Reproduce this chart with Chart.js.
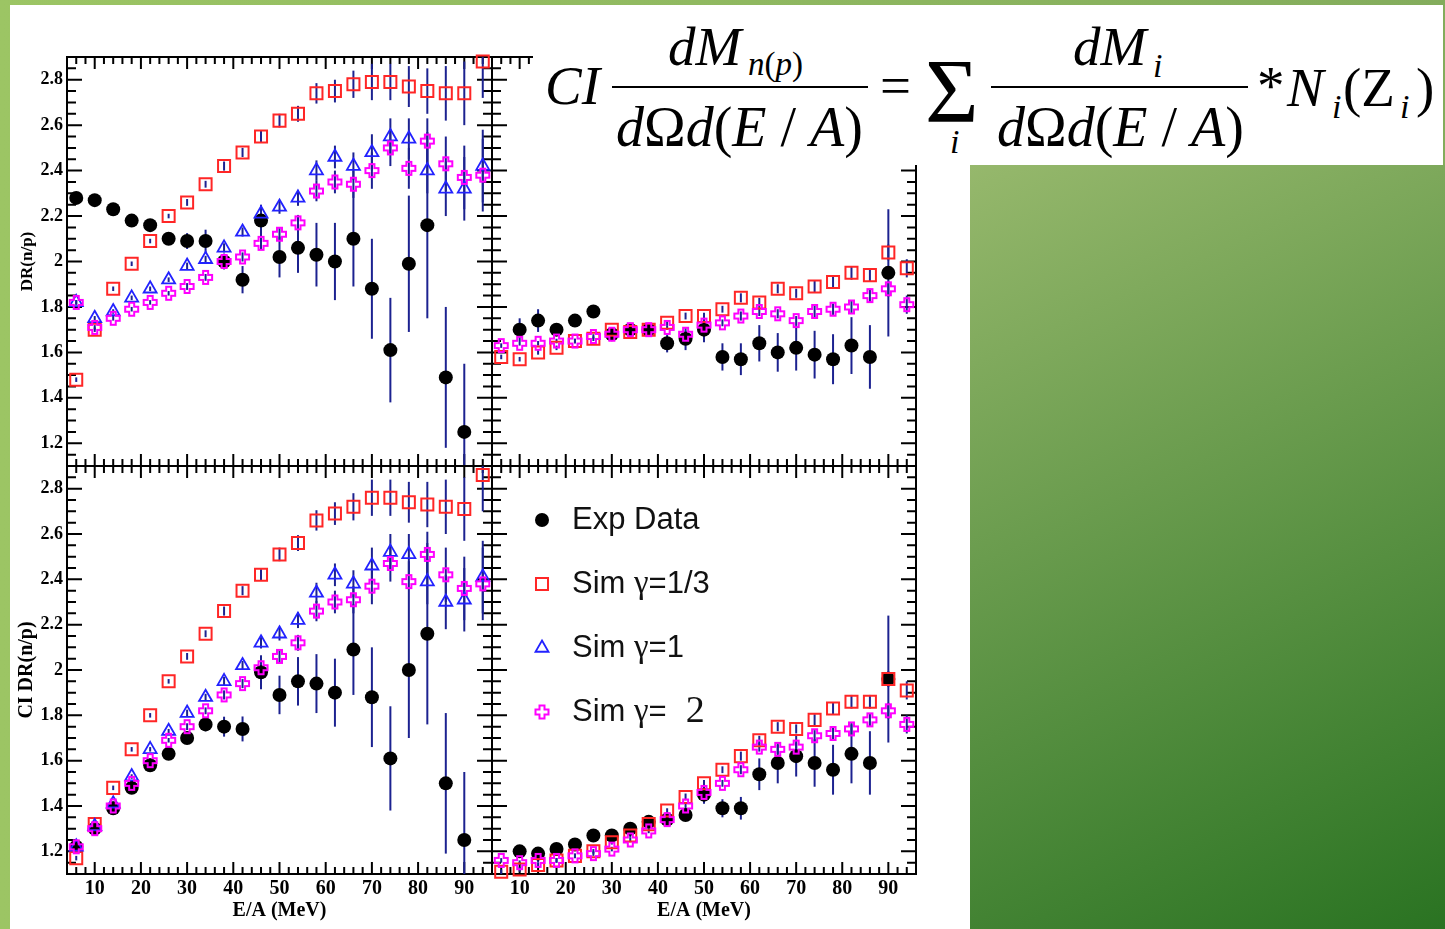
<!DOCTYPE html>
<html>
<head>
<meta charset="utf-8">
<script src="https://cdn.jsdelivr.net/npm/chart.js@4.4.1/dist/chart.umd.min.js"></script>
<style>
  body { margin: 0; width: 1445px; height: 929px; overflow: hidden; position: relative;
         background: linear-gradient(to right, #9cc564, #83ac5c); }
  .white { position: absolute; background: #fff; }
  #green { position: absolute; left: 970px; top: 165px; width: 475px; height: 764px;
           background: linear-gradient(155deg, #96b86c 0%, #2a7322 100%); }
  canvas { position: absolute; left: 0; top: 0; }
  #formulaBox { position: absolute; left: 533px; top: 5px; width: 910px; height: 160px; background: #fff; }
  .f { position: absolute; font-family: 'Liberation Serif', 'Times New Roman', serif; line-height: 1; white-space: pre; color: #000; }
  .bar { position: absolute; height: 2px; background: #000; }
</style>
</head>
<body>
<div class="white" style="left:10px;top:5px;width:960px;height:924px"></div>
<div class="white" style="left:10px;top:5px;width:1433px;height:160px"></div>
<div id="green"></div>
<canvas id="tl" width="1445" height="929"></canvas>
<canvas id="tr" width="1445" height="929"></canvas>
<canvas id="bl" width="1445" height="929"></canvas>
<canvas id="br" width="1445" height="929"></canvas>
<div id="formulaBox"></div>
<div id="formula"></div>
<script>
// beam energies E/A (MeV), same for every panel
var energies = [6, 10, 14, 18, 22, 26, 30, 34, 38, 42, 46, 50, 54, 58, 62, 66, 70, 74, 78, 82, 86, 90, 94];

// top left: DR(n/p)
var expTL    = [2.28, 2.27, 2.23, 2.18, 2.16, 2.10, 2.09, 2.09, 2.00, 1.92, 2.18, 2.02, 2.06, 2.03, 2.00, 2.10, 1.88, 1.61, 1.99, 2.16, 1.49, 1.25, null];
var expErrTL = [0.01, 0.01, 0.01, 0.01, 0.015, 0.02, 0.035, 0.05, 0.035, 0.06, 0.07, 0.09, 0.11, 0.14, 0.17, 0.21, 0.22, 0.23, 0.30, 0.41, 0.31, 0.30, null];
var sim13TL  = [1.48, 1.70, 1.88, 1.99, 2.09, 2.20, 2.26, 2.34, 2.42, 2.48, 2.55, 2.62, 2.65, 2.74, 2.75, 2.78, 2.79, 2.79, 2.77, 2.75, 2.74, 2.74, 2.88];
var sim1TL   = [1.82, 1.75, 1.78, 1.84, 1.88, 1.92, 1.98, 2.01, 2.06, 2.13, 2.21, 2.24, 2.28, 2.40, 2.46, 2.42, 2.48, 2.55, 2.54, 2.40, 2.32, 2.32, 2.42];
var sim2TL   = [1.82, 1.71, 1.75, 1.79, 1.82, 1.86, 1.89, 1.93, 2.00, 2.02, 2.08, 2.12, 2.17, 2.31, 2.35, 2.34, 2.40, 2.50, 2.41, 2.53, 2.43, 2.37, 2.38];

// top right: DR(n/p)
var expTR    = [null, 1.70, 1.74, 1.70, 1.74, 1.78, 1.68, 1.70, 1.70, 1.64, 1.66, 1.70, 1.58, 1.57, 1.64, 1.60, 1.62, 1.59, 1.57, 1.63, 1.58, 1.95, null];
var expErrTR = [null, 0.05, 0.05, 0.02, 0.02, 0.02, 0.02, 0.02, 0.025, 0.04, 0.05, 0.055, 0.06, 0.07, 0.08, 0.085, 0.10, 0.105, 0.11, 0.125, 0.14, 0.28, null];
var sim13TR  = [1.58, 1.57, 1.60, 1.62, 1.65, 1.66, 1.70, 1.69, 1.70, 1.73, 1.76, 1.76, 1.79, 1.84, 1.82, 1.88, 1.86, 1.89, 1.91, 1.95, 1.94, 2.04, 1.97];
var sim2TR   = [1.63, 1.64, 1.64, 1.65, 1.65, 1.67, 1.68, 1.70, 1.70, 1.71, 1.68, 1.72, 1.73, 1.76, 1.78, 1.77, 1.74, 1.78, 1.79, 1.80, 1.85, 1.88, 1.81];

// bottom left: CI DR(n/p)
var expBL    = [1.22, 1.30, 1.39, 1.48, 1.58, 1.63, 1.70, 1.76, 1.75, 1.74, 1.99, 1.89, 1.95, 1.94, 1.90, 2.09, 1.88, 1.61, 2.00, 2.16, 1.50, 1.25, null];
var expErrBL = [0.01, 0.01, 0.01, 0.01, 0.01, 0.015, 0.02, 0.03, 0.044, 0.055, 0.075, 0.085, 0.107, 0.13, 0.15, 0.20, 0.22, 0.23, 0.30, 0.40, 0.31, 0.30, null];
var sim13BL  = [1.17, 1.32, 1.48, 1.65, 1.80, 1.95, 2.06, 2.16, 2.26, 2.35, 2.42, 2.51, 2.56, 2.66, 2.69, 2.72, 2.76, 2.76, 2.74, 2.73, 2.72, 2.71, 2.86];
var sim1BL   = [1.22, 1.31, 1.41, 1.53, 1.65, 1.73, 1.81, 1.88, 1.95, 2.02, 2.12, 2.16, 2.22, 2.34, 2.42, 2.38, 2.46, 2.52, 2.51, 2.39, 2.30, 2.31, 2.41];
var sim2BL   = [1.22, 1.30, 1.40, 1.50, 1.60, 1.69, 1.75, 1.82, 1.89, 1.94, 2.01, 2.06, 2.12, 2.26, 2.30, 2.31, 2.37, 2.47, 2.39, 2.51, 2.42, 2.36, 2.38];

// bottom right: CI DR(n/p)
var expBR    = [null, 1.20, 1.19, 1.21, 1.23, 1.27, 1.27, 1.30, 1.33, 1.34, 1.36, 1.45, 1.39, 1.39, 1.54, 1.59, 1.62, 1.59, 1.56, 1.63, 1.59, 1.96, null];
var expErrBR = [null, 0.01, 0.01, 0.01, 0.01, 0.015, 0.015, 0.015, 0.02, 0.02, 0.025, 0.04, 0.04, 0.05, 0.07, 0.09, 0.09, 0.105, 0.11, 0.13, 0.14, 0.28, null];
var sim13BR  = [1.11, 1.12, 1.14, 1.16, 1.18, 1.20, 1.24, 1.27, 1.32, 1.38, 1.44, 1.50, 1.56, 1.62, 1.69, 1.75, 1.74, 1.78, 1.83, 1.86, 1.86, 1.96, 1.91];
var sim2BR   = [1.16, 1.15, 1.16, 1.16, 1.18, 1.19, 1.21, 1.25, 1.29, 1.34, 1.40, 1.46, 1.50, 1.56, 1.66, 1.65, 1.66, 1.71, 1.72, 1.74, 1.78, 1.82, 1.76];

// simulation statistical errors
var simErrL = [0.01, 0.01, 0.01, 0.01, 0.01, 0.01, 0.015, 0.015, 0.02, 0.02, 0.025, 0.03, 0.035, 0.045, 0.05, 0.06, 0.08, 0.08, 0.09, 0.10, 0.12, 0.14, 0.16];
var simErrR = [0.01, 0.01, 0.01, 0.01, 0.01, 0.01, 0.01, 0.01, 0.01, 0.01, 0.015, 0.015, 0.015, 0.02, 0.02, 0.02, 0.02, 0.025, 0.025, 0.03, 0.03, 0.035, 0.04];

var legendLabels = ['Exp Data', 'Sim \u03b3=1/3', 'Sim \u03b3=1', 'Sim \u03b3= 2'];
var xTicks = [10, 20, 30, 40, 50, 60, 70, 80, 90];
var yTicks = [1.2, 1.4, 1.6, 1.8, 2.0, 2.2, 2.4, 2.6, 2.8];
var xRange = [4, 96];
var yRange = [1.1, 2.9];

Chart.defaults.font.family = "'Liberation Serif', 'Times New Roman', serif";
Chart.defaults.color = '#000';

var errColor = '#1c2290';

// open cross marker (ROOT style 28)
function openCross(color) {
    var c = document.createElement('canvas');
    c.width = 17; c.height = 17;
    var g = c.getContext('2d');
    var p = [[6, 2], [11, 2], [11, 6], [15, 6], [15, 11], [11, 11], [11, 15], [6, 15], [6, 11], [2, 11], [2, 6], [6, 6]];
    g.beginPath();
    g.moveTo(p[0][0], p[0][1]);
    for (var i = 1; i < p.length; i++) g.lineTo(p[i][0], p[i][1]);
    g.closePath();
    g.strokeStyle = color;
    g.lineWidth = 2;
    g.stroke();
    return c;
}
var crossImg = openCross('#ff00ff');

var markers = [
    { style: 'circle', r: 7, bg: '#000', border: '#000', bw: 0 },
    { style: 'rect', r: 8.5, bg: 'rgba(0,0,0,0)', border: '#ff2626', bw: 2 },
    { style: 'triangle', r: 7.5, bg: 'rgba(0,0,0,0)', border: '#2222ff', bw: 1.8 },
    { style: crossImg, r: 7, bg: 'rgba(0,0,0,0)', border: '#ff00ff', bw: 0 }
];

function series(vals, errs) {
    var out = [];
    if (!vals) return out;
    energies.forEach(function (e, i) {
        if (vals[i] != null) out.push({ x: e, y: vals[i], err: errs ? errs[i] : 0 });
    });
    return out;
}

// frame with ticks inside on all four sides
var frameTicks = {
    id: 'frameTicks',
    beforeDatasetsDraw: function (chart) {
        var ctx = chart.ctx, a = chart.chartArea, x = chart.scales.x, y = chart.scales.y;
        ctx.save();
        ctx.strokeStyle = '#000';
        ctx.lineWidth = 2;
        ctx.strokeRect(a.left, a.top, a.right - a.left, a.bottom - a.top);
        ctx.beginPath();
        for (var v = xRange[0]; v <= xRange[1]; v += 2) {
            var px = x.getPixelForValue(v);
            var len = v % 10 === 0 ? 12 : 7;
            ctx.moveTo(px, a.bottom); ctx.lineTo(px, a.bottom - len);
            ctx.moveTo(px, a.top); ctx.lineTo(px, a.top + len);
        }
        for (var k = 0; k <= 36; k++) {
            var val = Math.round((yRange[0] + k * 0.05) * 100);
            var py = y.getPixelForValue(val / 100);
            var l2 = val % 20 === 0 ? 15 : 9;
            ctx.moveTo(a.left, py); ctx.lineTo(a.left + l2, py);
            ctx.moveTo(a.right, py); ctx.lineTo(a.right - l2, py);
        }
        ctx.stroke();
        ctx.restore();
    }
};

var errorBars = {
    id: 'errorBars',
    beforeDatasetsDraw: function (chart) {
        var ctx = chart.ctx, a = chart.chartArea, y = chart.scales.y;
        ctx.save();
        ctx.beginPath();
        ctx.rect(a.left, a.top, a.right - a.left, a.bottom - a.top);
        ctx.clip();
        ctx.strokeStyle = errColor;
        ctx.lineWidth = 2;
        chart.data.datasets.forEach(function (ds, di) {
            var meta = chart.getDatasetMeta(di);
            ds.data.forEach(function (d, i) {
                if (!d.err) return;
                var el = meta.data[i];
                ctx.beginPath();
                ctx.moveTo(el.x, y.getPixelForValue(d.y - d.err));
                ctx.lineTo(el.x, y.getPixelForValue(d.y + d.err));
                ctx.stroke();
            });
        });
        ctx.restore();
    }
};

var sansFont = "31px 'Liberation Sans', Arial, sans-serif";
var serifFont = "33px 'Liberation Serif', 'Times New Roman', serif";

var legendBox = {
    id: 'legendBox',
    afterDatasetsDraw: function (chart, args, opts) {
        if (!opts.show) return;
        var ctx = chart.ctx, a = chart.chartArea;
        ctx.save();
        legendLabels.forEach(function (label, i) {
            var m = markers[i];
            var yy = a.top + 54 + i * 64;
            var xx = a.left + 50;
            ctx.fillStyle = m.bg;
            ctx.strokeStyle = m.border;
            ctx.lineWidth = m.bw;
            Chart.helpers.drawPoint(ctx, { pointStyle: m.style, radius: m.r, borderWidth: m.bw, rotation: 0 }, xx, yy);
            ctx.fillStyle = '#111';
            ctx.textBaseline = 'middle';
            var tx = a.left + 80;
            // gamma and the trailing "2" are set in a serif face, as on the slide
            label.split(/(\u03b3| 2$)/).forEach(function (part) {
                if (!part) return;
                if (part === '\u03b3') {
                    ctx.font = serifFont;
                } else if (part === ' 2') {
                    ctx.font = "38px 'Liberation Serif', 'Times New Roman', serif";
                    part = '  2';
                } else {
                    ctx.font = sansFont;
                }
                ctx.fillText(part, tx, yy);
                tx += ctx.measureText(part).width;
            });
        });
        ctx.restore();
    }
};

var F = { L: 67, M: 492, R: 916, T: 57, MID: 466, B: 874, W: 1445, H: 929 };

function makePanel(id, p) {
    var yW = p.yTitleSize === 17 ? 50 : 52;
    var xH = 49;
    var pad = {
        left: p.left ? F.L - yW : F.M,
        right: F.W - (p.left ? F.M : F.R),
        top: p.top ? F.T : F.MID,
        bottom: p.top ? F.H - F.MID : F.H - F.B - xH
    };
    var sets = [p.exp, p.s13, p.s1, p.s2];
    var errs = [p.expErr, p.simErr, p.simErr, p.simErr];
    var datasets = sets.map(function (vals, i) {
        var m = markers[i];
        return {
            label: legendLabels[i],
            data: series(vals, errs[i]),
            order: 4 - i,
            showLine: false,
            clip: false,
            pointStyle: m.style,
            pointRadius: m.r,
            pointBackgroundColor: m.bg,
            pointBorderColor: m.border,
            pointBorderWidth: m.bw
        };
    });

    new Chart(document.getElementById(id), {
        type: 'scatter',
        data: { datasets: datasets },
        options: {
            responsive: false,
            animation: false,
            devicePixelRatio: 1,
            events: [],
            layout: { padding: pad },
            scales: {
                x: {
                    type: 'linear', min: xRange[0], max: xRange[1],
                    display: !p.top,
                    grid: { display: false, drawTicks: false },
                    border: { display: false },
                    afterBuildTicks: function (s) { s.ticks = xTicks.map(function (v) { return { value: v }; }); },
                    ticks: { autoSkip: false, maxRotation: 0, padding: 3,
                             font: { size: 20, weight: 'bold' } },
                    title: { display: true, text: 'E/A (MeV)', padding: 0, font: { size: 20, weight: 'bold' } },
                    afterFit: p.top ? undefined : function (s) { s.height = xH; }
                },
                y: {
                    type: 'linear', min: yRange[0], max: yRange[1],
                    display: p.left,
                    grid: { display: false, drawTicks: false },
                    border: { display: false },
                    afterBuildTicks: function (s) { s.ticks = yTicks.map(function (v) { return { value: v }; }); },
                    ticks: { autoSkip: false, padding: 4,
                             font: { size: 18, weight: 'bold' },
                             callback: function (v) { return String(Math.round(v * 10) / 10); } },
                    title: { display: true, text: p.yTitle, padding: 0, font: { size: p.yTitleSize, weight: 'bold' } },
                    afterFit: p.left ? function (s) { s.width = yW; } : undefined
                }
            },
            plugins: {
                legend: { display: false },
                tooltip: { enabled: false },
                legendBox: { show: !!p.legend }
            }
        },
        plugins: [frameTicks, errorBars, legendBox]
    });
}

makePanel('tl', { top: true, left: true, exp: expTL, expErr: expErrTL, s13: sim13TL, s1: sim1TL, s2: sim2TL, simErr: simErrL, yTitle: 'DR(n/p)', yTitleSize: 17 });
makePanel('tr', { top: true, left: false, exp: expTR, expErr: expErrTR, s13: sim13TR, s1: null, s2: sim2TR, simErr: simErrR, yTitle: '', yTitleSize: 17 });
makePanel('bl', { top: false, left: true, exp: expBL, expErr: expErrBL, s13: sim13BL, s1: sim1BL, s2: sim2BL, simErr: simErrL, yTitle: 'CI DR(n/p)', yTitleSize: 20 });
makePanel('br', { top: false, left: false, exp: expBR, expErr: expErrBR, s13: sim13BR, s1: null, s2: sim2BR, simErr: simErrR, yTitle: '', yTitleSize: 20, legend: true });

// formula text
var formula = document.getElementById('formula');
function put(html, x, base, size) {
    var d = document.createElement('div');
    d.className = 'f';
    d.innerHTML = html;
    d.style.left = x + 'px';
    d.style.top = (base - 0.8375 * size) + 'px';
    d.style.fontSize = size + 'px';
    formula.appendChild(d);
}
function bar(x, y, w) {
    var d = document.createElement('div');
    d.className = 'bar';
    d.style.left = x + 'px'; d.style.top = y + 'px'; d.style.width = w + 'px';
    formula.appendChild(d);
}
var den = '<i>d</i>\u03a9<i>d</i>(<i>E</i> / <i>A</i>)';
put('<i>CI</i>', 545, 104, 55);
put('<i>dM</i>', 668, 65, 55);
put('<i>n</i>(<i>p</i>)', 748, 76, 33);
bar(612, 86, 256);
put(den, 616, 146, 56);
put('=', 880, 104, 55);
put('\u03a3', 925, 122, 92);
put('<i>i</i>', 950, 153, 34);
put('<i>dM</i>', 1073, 65, 55);
put('<i>i</i>', 1153, 77, 34);
bar(991, 86, 257);
put(den, 997, 146, 56);
put('*', 1257, 104, 55);
put('<i>N</i>', 1287, 106, 55);
put('<i>i</i>', 1332, 118, 34);
put('(Z', 1343, 106, 55);
put('<i>i</i>', 1400, 118, 34);
put(')', 1416, 106, 55);
</script>
</body>
</html>
